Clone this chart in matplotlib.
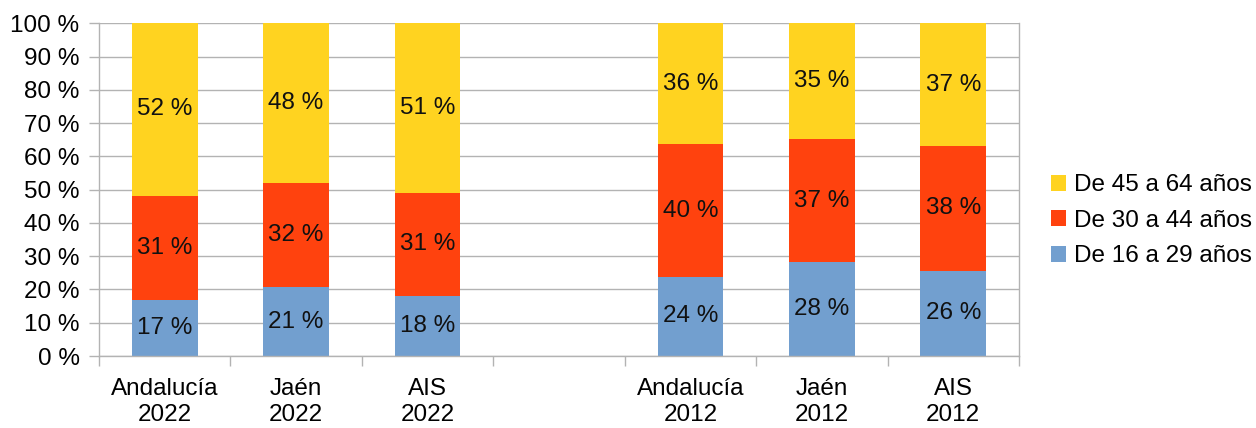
import numpy as np
import matplotlib.pyplot as plt

plt.rcParams['font.family'] = ['Liberation Sans', 'DejaVu Sans']

# chart data (percent); the empty slot separates 2022 and 2012
categories = ['Andalucía\n2022', 'Jaén\n2022', 'AIS\n2022', '',
              'Andalucía\n2012', 'Jaén\n2012', 'AIS\n2012']
age_16_29 = [16.8, 20.6, 18.1, np.nan, 23.8, 28.3, 25.6]
age_30_44 = [31.4, 31.5, 30.9, np.nan, 39.8, 36.8, 37.6]
age_45_64 = [51.8, 47.9, 51.0, np.nan, 36.4, 34.9, 36.8]

series = [
    ('De 16 a 29 años', age_16_29, '#729fcf'),
    ('De 30 a 44 años', age_30_44, '#ff420e'),
    ('De 45 a 64 años', age_45_64, '#ffd320'),
]

FS = 17.5

fig = plt.figure(figsize=(12.56, 4.28), dpi=100)
ax = fig.add_axes([0.0788, 0.1682, 0.7325, 0.7773])

x = np.arange(len(categories))
bottom = np.zeros(len(categories))
handles = []
for name, vals, color in series:
    vals = np.array(vals, dtype=float)
    mask = ~np.isnan(vals)
    bars = ax.bar(x[mask], vals[mask], bottom=bottom[mask], width=0.5,
                  color=color, label=name, zorder=2)
    ax.bar_label(bars, labels=[f'{int(v + 0.5)} %' for v in vals[mask]],
                 label_type='center', fontsize=FS, color='#111111')
    bottom[mask] += vals[mask]
    handles.append(bars)

ax.set_xlim(-0.5, len(categories) - 0.5)
ax.set_ylim(0, 100)
ax.set_yticks(np.arange(0, 101, 10))
ax.set_yticklabels([f'{v} %' for v in range(0, 101, 10)], fontsize=FS)
ax.set_xticks(x)
ax.set_xticklabels(categories, fontsize=FS, linespacing=1.22)
ax.set_xticks(np.arange(-0.5, len(categories), 1), minor=True)
ax.tick_params(axis='x', which='major', length=0, pad=16)
ax.tick_params(axis='x', which='minor', length=7, color='#b3b3b3', width=1)
ax.tick_params(axis='y', length=7, color='#b3b3b3', width=1, pad=7)

ax.grid(axis='y', color='#b3b3b3', linewidth=1, zorder=0)
ax.set_axisbelow(True)
for side in ['left', 'right', 'bottom', 'top']:
    ax.spines[side].set_color('#b3b3b3')
    ax.spines[side].set_linewidth(1)
ax.spines['top'].set_visible(False)

fig.legend(handles[::-1], [s[0] for s in series][::-1],
           loc='center left', bbox_to_anchor=(0.819, 0.484),
           frameon=False, fontsize=FS, handlelength=0.62, handleheight=0.62,
           handletextpad=0.35, labelspacing=0.55)

fig.savefig('out.png', dpi=100)
